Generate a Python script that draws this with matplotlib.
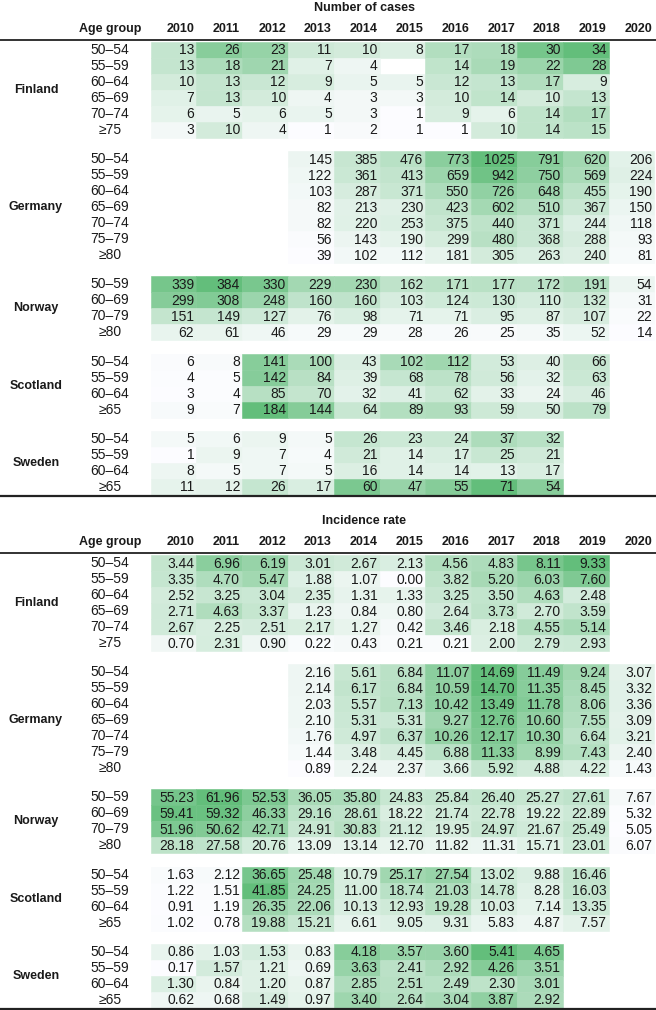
import matplotlib.pyplot as plt
from matplotlib.colors import LinearSegmentedColormap
from matplotlib.patches import Rectangle

# ==========================================
# 1. Data
# ==========================================
years = ['2010', '2011', '2012', '2013', '2014', '2015', '2016', '2017', '2018', '2019', '2020']
countries = ['Finland', 'Germany', 'Norway', 'Scotland', 'Sweden']

fin_ages = ['50–54', '55–59', '60–64', '65–69', '70–74', '≥75']
ger_ages = ['50–54', '55–59', '60–64', '65–69', '70–74', '75–79', '≥80']
nor_ages = ['50–59', '60–69', '70–79', '≥80']
sco_ages = ['50–54', '55–59', '60–64', '≥65']
swe_ages = ['50–54', '55–59', '60–64', '≥65']

# number of cases (None = no data)
fin_cases = [
    [13, 26, 23, 11, 10, 8, 17, 18, 30, 34, None],
    [13, 18, 21, 7, 4, None, 14, 19, 22, 28, None],
    [10, 13, 12, 9, 5, 5, 12, 13, 17, 9, None],
    [7, 13, 10, 4, 3, 3, 10, 14, 10, 13, None],
    [6, 5, 6, 5, 3, 1, 9, 6, 14, 17, None],
    [3, 10, 4, 1, 2, 1, 1, 10, 14, 15, None],
]
ger_cases = [
    [None, None, None, 145, 385, 476, 773, 1025, 791, 620, 206],
    [None, None, None, 122, 361, 413, 659, 942, 750, 569, 224],
    [None, None, None, 103, 287, 371, 550, 726, 648, 455, 190],
    [None, None, None, 82, 213, 230, 423, 602, 510, 367, 150],
    [None, None, None, 82, 220, 253, 375, 440, 371, 244, 118],
    [None, None, None, 56, 143, 190, 299, 480, 368, 288, 93],
    [None, None, None, 39, 102, 112, 181, 305, 263, 240, 81],
]
nor_cases = [
    [339, 384, 330, 229, 230, 162, 171, 177, 172, 191, 54],
    [299, 308, 248, 160, 160, 103, 124, 130, 110, 132, 31],
    [151, 149, 127, 76, 98, 71, 71, 95, 87, 107, 22],
    [62, 61, 46, 29, 29, 28, 26, 25, 35, 52, 14],
]
sco_cases = [
    [6, 8, 141, 100, 43, 102, 112, 53, 40, 66, None],
    [4, 5, 142, 84, 39, 68, 78, 56, 32, 63, None],
    [3, 4, 85, 70, 32, 41, 62, 33, 24, 46, None],
    [9, 7, 184, 144, 64, 89, 93, 59, 50, 79, None],
]
swe_cases = [
    [5, 6, 9, 5, 26, 23, 24, 37, 32, None, None],
    [1, 9, 7, 4, 21, 14, 17, 25, 21, None, None],
    [8, 5, 7, 5, 16, 14, 14, 13, 17, None, None],
    [11, 12, 26, 17, 60, 47, 55, 71, 54, None, None],
]

# incidence rate
fin_rate = [
    [3.44, 6.96, 6.19, 3.01, 2.67, 2.13, 4.56, 4.83, 8.11, 9.33, None],
    [3.35, 4.70, 5.47, 1.88, 1.07, 0.00, 3.82, 5.20, 6.03, 7.60, None],
    [2.52, 3.25, 3.04, 2.35, 1.31, 1.33, 3.25, 3.50, 4.63, 2.48, None],
    [2.71, 4.63, 3.37, 1.23, 0.84, 0.80, 2.64, 3.73, 2.70, 3.59, None],
    [2.67, 2.25, 2.51, 2.17, 1.27, 0.42, 3.46, 2.18, 4.55, 5.14, None],
    [0.70, 2.31, 0.90, 0.22, 0.43, 0.21, 0.21, 2.00, 2.79, 2.93, None],
]
ger_rate = [
    [None, None, None, 2.16, 5.61, 6.84, 11.07, 14.69, 11.49, 9.24, 3.07],
    [None, None, None, 2.14, 6.17, 6.84, 10.59, 14.70, 11.35, 8.45, 3.32],
    [None, None, None, 2.03, 5.57, 7.13, 10.42, 13.49, 11.78, 8.06, 3.36],
    [None, None, None, 2.10, 5.31, 5.31, 9.27, 12.76, 10.60, 7.55, 3.09],
    [None, None, None, 1.76, 4.97, 6.37, 10.26, 12.17, 10.30, 6.64, 3.21],
    [None, None, None, 1.44, 3.48, 4.45, 6.88, 11.33, 8.99, 7.43, 2.40],
    [None, None, None, 0.89, 2.24, 2.37, 3.66, 5.92, 4.88, 4.22, 1.43],
]
nor_rate = [
    [55.23, 61.96, 52.53, 36.05, 35.80, 24.83, 25.84, 26.40, 25.27, 27.61, 7.67],
    [59.41, 59.32, 46.33, 29.16, 28.61, 18.22, 21.74, 22.78, 19.22, 22.89, 5.32],
    [51.96, 50.62, 42.71, 24.91, 30.83, 21.12, 19.95, 24.97, 21.67, 25.49, 5.05],
    [28.18, 27.58, 20.76, 13.09, 13.14, 12.70, 11.82, 11.31, 15.71, 23.01, 6.07],
]
sco_rate = [
    [1.63, 2.12, 36.65, 25.48, 10.79, 25.17, 27.54, 13.02, 9.88, 16.46, None],
    [1.22, 1.51, 41.85, 24.25, 11.00, 18.74, 21.03, 14.78, 8.28, 16.03, None],
    [0.91, 1.19, 26.35, 22.06, 10.13, 12.93, 19.28, 10.03, 7.14, 13.35, None],
    [1.02, 0.78, 19.88, 15.21, 6.61, 9.05, 9.31, 5.83, 4.87, 7.57, None],
]
swe_rate = [
    [0.86, 1.03, 1.53, 0.83, 4.18, 3.57, 3.60, 5.41, 4.65, None, None],
    [0.17, 1.57, 1.21, 0.69, 3.63, 2.41, 2.92, 4.26, 3.51, None, None],
    [1.30, 0.84, 1.20, 0.87, 2.85, 2.51, 2.49, 2.30, 3.01, None, None],
    [0.62, 0.68, 1.49, 0.97, 3.40, 2.64, 3.04, 3.87, 2.92, None, None],
]

all_ages = [fin_ages, ger_ages, nor_ages, sco_ages, swe_ages]
cases_blocks = [fin_cases, ger_cases, nor_cases, sco_cases, swe_cases]
rate_blocks = [fin_rate, ger_rate, nor_rate, sco_rate, swe_rate]

# ==========================================
# 2. Layout / style
# ==========================================
W, H = 656, 1010
col_left = 150.5
col_w = 45.8
row_h = 16
group_gap = 13.2
text_c = '#1a1a1a'
cmap = LinearSegmentedColormap.from_list('xl_green', ['#FCFCFF', '#63BE7B'])

bold_font = ['Liberation Sans', 'DejaVu Sans']
body_font = ['Liberation Sans Narrow', 'Liberation Sans', 'DejaVu Sans']

fig = plt.figure(figsize=(W / 100, H / 100), dpi=100)
ax = fig.add_axes([0, 0, 1, 1])
ax.set_xlim(0, W)
ax.set_ylim(H, 0)
ax.axis('off')


def draw_table(top, title, blocks, fmt):
    # top = y of the table title
    ax.text(364, top, title, ha='center', va='center', fontsize=9,
            fontweight='bold', family=bold_font, color=text_c)
    head_y = top + 21
    ax.text(110, head_y, 'Age group', ha='center', va='center', fontsize=9,
            fontweight='bold', family=bold_font, color=text_c)
    for j, yr in enumerate(years):
        ax.text(col_left + (j + 1) * col_w - 2, head_y, yr, ha='right', va='center',
                fontsize=9, fontweight='bold', family=bold_font, color=text_c)
    line_y = head_y + 10.5
    ax.plot([0, W], [line_y, line_y], color='#222222', lw=1.3, solid_capstyle='butt')

    y = line_y + 10.5
    for country, ages, block in zip(countries, all_ages, blocks):
        vals = [v for row in block for v in row if v is not None]
        vmin, vmax = min(vals), max(vals)
        y_first = y
        for ages_lbl, row in zip(ages, block):
            ax.text(110, y, ages_lbl, ha='center', va='center', fontsize=10,
                    family=body_font, color=text_c)
            for j, v in enumerate(row):
                if v is None:
                    continue
                c = cmap((v - vmin) / (vmax - vmin))
                ax.add_patch(Rectangle((col_left + j * col_w, y - row_h / 2), col_w, row_h,
                                       facecolor=c, edgecolor=c, lw=0.4))
                ax.text(col_left + (j + 1) * col_w - 2, y + 0.5, fmt(v), ha='right',
                        va='center', fontsize=10, family=body_font, color=text_c)
            y += row_h
        y_last = y - row_h
        ax.text(36, (y_first + y_last) / 2, country, ha='center', va='center',
                fontsize=9, fontweight='bold', family=bold_font, color=text_c)
        y += group_gap
    bottom_y = y - group_gap - row_h + 9.5
    ax.plot([0, W], [bottom_y, bottom_y], color='#222222', lw=1.6, solid_capstyle='butt')


# ==========================================
# 3. Draw both tables
# ==========================================
draw_table(8, 'Number of cases', cases_blocks, lambda v: f'{v:d}')
draw_table(521, 'Incidence rate', rate_blocks, lambda v: f'{v:.2f}')

fig.savefig('out.png', dpi=100)
